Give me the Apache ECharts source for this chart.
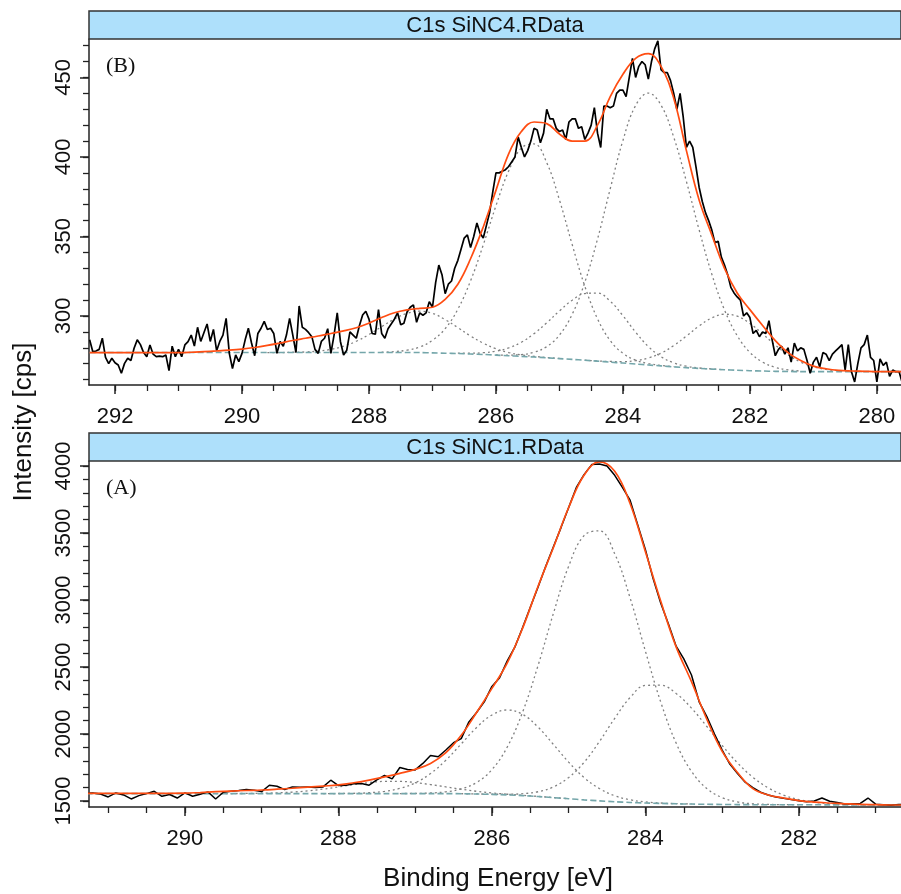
<!DOCTYPE html>
<html>
<head>
<meta charset="utf-8">
<title>C1s SiNC peak fits</title>
<script src="https://cdn.jsdelivr.net/npm/echarts@6/dist/echarts.min.js"></script>
<style>
  html, body { margin: 0; padding: 0; background: #fff; }
  #chart { width: 901px; height: 894px; }
</style>
</head>
<body>
<div id="chart"></div>
<script>
// sampling of the spectra, binding energy in eV (high -> low)
var topStart = 292.4, topStep = 0.05;
var botStart = 291.3, botStep = 0.1;
var fitStep = 0.2;

// ---- (B) SiNC4 ----
var topCounts = [
  285, 277.5, 278, 279, 286, 274, 270, 273.4, 270.6, 269.2,
  264, 270.2, 273.4, 272, 279.7, 285, 282, 277, 274.4, 281.8,
  276, 274.4, 274.8, 274.4, 275.5, 265.6, 281, 274.4, 279, 274.4,
  281.8, 283.9, 288, 281.1, 292.9, 284, 289.5, 295, 284, 291.6,
  278.2, 284, 288, 298.5, 276.5, 267, 275.5, 271.3, 276.5, 285,
  292.3, 283, 275, 289, 292.3, 296.6, 291.5, 292.3, 289, 276.5,
  283.9, 281, 288, 298.5, 288, 277, 306.3, 292.9, 291.6, 289.5,
  287, 279, 276.5, 284, 286, 292, 276.5, 288, 302, 284,
  275.5, 278.5, 290, 288, 286, 294, 300.6,
  303, 298, 289, 288.5, 304, 289, 286, 292, 295, 298,
  302, 294.5, 295.5, 302.5, 305.5, 307, 296, 302, 300.5, 302,
  309, 305.5, 321, 332, 326, 314, 320,
  322, 330, 335, 342, 349, 351, 343, 350, 358.5, 352,
  349, 357, 365, 378, 390, 390, 391, 392, 394, 397,
  400, 412.6, 406, 400, 404, 410, 418, 417, 409, 415,
  430, 424, 424, 418, 416, 417, 411, 422, 424, 424,
  418, 419, 411, 415, 420, 431, 415, 406, 432, 432,
  431, 432, 440, 442, 442, 438, 450, 462, 450, 457,
  460, 458, 449, 460, 468, 473, 455, 453, 453, 448,
  440, 430, 440, 425, 406, 410, 406, 394, 381, 372,
  365, 360, 354, 346, 347, 337, 332, 326, 318, 314.5,
  312, 310, 300, 302, 299, 289, 291, 287, 290, 289,
  297, 285, 275, 279, 281, 276, 280, 271, 283, 278,
  280, 279, 272, 264, 271, 274, 268, 277, 276, 272,
  276, 278, 280, 282, 266, 282, 265, 258.5, 270, 280,
  282, 288, 274, 272, 258.5, 273, 269, 271, 262, 266,
  265, 265, 258
];
// fit envelope and Shirley background, from 292.4 eV every 0.2 eV
var topEnvelope = [
  277, 277, 277, 277, 277, 277, 277, 277, 277.2, 277.6,
  278, 278.5, 279.2, 280.2, 281.5, 283, 284.6, 286, 287.4, 289,
  290.6, 292.6, 295.5, 299, 302, 303.8, 304.8, 305.5, 310.5, 320,
  336, 356, 379, 402, 416, 422, 421, 414.5, 410, 410,
  420, 438, 452, 462, 465, 457, 437, 404, 373, 351,
  330, 314.5, 304, 294, 284.5, 277, 272, 268.5, 266.8, 265.8,
  265.4, 265.2, 265, 265, 265
];
var topBackground = [
  277, 277, 277, 277, 277, 277, 277, 277, 277, 277,
  277, 277, 277, 277, 277, 277, 277, 277, 277, 277,
  277, 277, 277, 277, 277, 277, 277,
  276.8, 276.6, 276.4, 276.1, 275.8, 275.4, 275, 274.6, 274.2, 273.7,
  273.2, 272.7, 272.2, 271.6, 271, 270.4, 269.8, 269.2, 268.6, 268,
  267.5, 267, 266.6, 266.2, 265.9, 265.6, 265.4, 265.2, 265.1,
  265, 265, 265, 265, 265, 265, 265, 265, 265
];
// fitted components (start energy, values every 0.2 eV)
var topComp1Start = 289.6;
var topComp1 = [277, 277, 277.2, 277.4, 277.9, 279, 281, 284.1, 288.3, 293.3, 298.1, 301.7,
  303, 301.7, 297.7, 292.7, 287.4, 282.9, 279.4, 277, 275.5, 274.6, 273.9, 273.3];
var topComp2Start = 287.8;
var topComp2 = [277.2, 277.6, 278.5, 280.5, 284.7, 292, 304.3, 322.1, 344.7, 369.3, 391.2, 405.6,
  408.2, 396.4, 373, 345, 318.7, 298.2, 284.5, 276.5, 272.2, 270.1, 268.9, 268.1];
var topComp3Start = 286.6;
var topComp3 = [276.6, 276.6, 276.9, 277.9, 279.9, 283.5, 288.9, 295.7, 303.2, 309.9, 314.1,
  314.4, 309.3, 300.2, 289.8, 280.8, 274.4, 270.5, 268.4, 267.3, 266.7, 266.2];
var topComp4Start = 286.0;
var topComp4 = [275.5, 275.4, 275.7, 277.2, 280.7, 288, 301, 321.2, 348.4, 380, 410.4, 432.4,
  440.2, 432.6, 412.5, 384.6, 354.2, 326.3, 303.8, 287.6, 277.1, 271, 267.7, 266.1, 265.4];
var topComp5Start = 284.6;
var topComp5 = [272.2, 271.7, 271.4, 271.3, 271.9, 273.6, 276.6, 281.4, 287.4, 293.7, 298.8,
  301.1, 299.9, 295.3, 288.8, 281.7, 275.6, 271, 268.1, 266.4, 265.6, 265.2, 265];

// ---- (A) SiNC1 ----
var botCounts = [
  1555, 1560, 1552, 1530, 1560, 1545, 1515, 1540, 1555, 1572,
  1535, 1548, 1522, 1560, 1535, 1550, 1568, 1515, 1565, 1572,
  1578, 1585, 1580, 1570, 1617, 1610, 1585, 1605, 1602, 1604,
  1600, 1605, 1655, 1615, 1618, 1628, 1630, 1618, 1657, 1690,
  1665, 1750, 1735, 1732, 1780, 1840, 1830, 1880, 1935, 1965,
  2090, 2160, 2240, 2355, 2420,
  2545, 2650, 2795, 2945, 3095, 3250, 3395, 3540, 3690, 3840,
  3935, 4010, 4015, 4000, 3930, 3840, 3745, 3560, 3375, 3160,
  2975, 2820, 2655, 2560, 2440, 2240, 2130, 2000, 1880, 1775,
  1705, 1640, 1600, 1565, 1545, 1530, 1520, 1510, 1502, 1495,
  1500, 1522, 1498, 1488, 1478, 1480, 1482, 1522, 1476, 1472,
  1468, 1474, 1470
];
var botFitStart = 291.4;
var botEnvelope = [
  1556, 1556, 1556, 1556, 1557, 1557, 1557, 1558, 1563, 1569,
  1574, 1578, 1582, 1588, 1595, 1603, 1611, 1620, 1636, 1656,
  1680, 1706, 1736, 1780, 1860, 1990, 2160, 2340, 2530, 2790,
  3100, 3390, 3690, 3930, 4030, 3960, 3720, 3360, 2990, 2650,
  2390, 2110, 1870, 1712, 1592, 1545, 1522, 1503, 1492, 1485,
  1479, 1474, 1472, 1470, 1470
];
var botBackground = [
  1555, 1555, 1555, 1555, 1555, 1555, 1555, 1555, 1555, 1555,
  1555, 1555, 1555, 1555, 1555, 1555, 1555, 1555, 1555, 1555,
  1555, 1555, 1555, 1555, 1555,
  1554, 1552, 1549, 1545, 1540, 1533, 1525, 1517, 1508, 1501,
  1494, 1489, 1485, 1482, 1479, 1477, 1475, 1474, 1473, 1472,
  1472, 1472, 1472, 1471.5, 1471, 1470.5, 1470, 1470, 1470, 1470
];
var botComp1Start = 289.6;
var botComp1 = [1555.1, 1555.4, 1556, 1557.5, 1560.5, 1566.1, 1575.2, 1588.5, 1604.9, 1622.3,
  1637.2, 1645.9, 1645.9, 1637.2, 1622.3, 1604.9, 1587.5, 1572.2, 1560.1, 1550.5, 1542.5,
  1534, 1525.4, 1517.1];
var botComp2Start = 288.2;
var botComp2 = [1555.2, 1555.7, 1557.2, 1561.3, 1571.6, 1593.5, 1635.2, 1704.5, 1804.2, 1925.6,
  2048.4, 2141.8, 2179, 2146, 2051.7, 1922.5, 1789.5, 1675, 1592.7, 1539, 1508.8, 1492.8,
  1484.7, 1479.9, 1477.3];
var botComp3Start = 287.2;
var botComp3 = [1555.4, 1556.4, 1559.5, 1568.4, 1589.8, 1637.7, 1733.9, 1903, 2163.7, 2509,
  2898, 3252.4, 3480.4, 3516, 3344.9, 3015.9, 2617, 2237.3, 1931.8, 1720.8, 1593, 1525.4,
  1493, 1479, 1474.2, 1472.6, 1472.1];
var botComp4Start = 286.4;
var botComp4 = [1554.1, 1552.5, 1550.6, 1550.1, 1554.3, 1568.8, 1604.6, 1675, 1787.8, 1943,
  2116.7, 2271.6, 2362.5, 2364, 2302, 2193, 2056, 1914, 1783.8, 1676.6, 1597.8, 1544.1,
  1510.5, 1491.2, 1479.9, 1474.4, 1471.6, 1470.6, 1470.2, 1470];

// tick positions
var topXMajor = [280, 282, 284, 286, 288, 290, 292];
var topXMinor = [280, 280.5, 281, 281.5, 282, 282.5, 283, 283.5, 284, 284.5, 285, 285.5, 286,
  286.5, 287, 287.5, 288, 288.5, 289, 289.5, 290, 290.5, 291, 291.5, 292];
var topYMajor = [300, 350, 400, 450];
var topYMinor = [260, 270, 280, 290, 300, 310, 320, 330, 340, 350, 360, 370, 380, 390, 400,
  410, 420, 430, 440, 450, 460, 470];
var botXMajor = [282, 284, 286, 288, 290];
var botXMinor = [281, 281.5, 282, 282.5, 283, 283.5, 284, 284.5, 285, 285.5, 286, 286.5, 287,
  287.5, 288, 288.5, 289, 289.5, 290, 290.5, 291];
var botYMajor = [1500, 2000, 2500, 3000, 3500, 4000];
var botYMinor = [1500, 1600, 1700, 1800, 1900, 2000, 2100, 2200, 2300, 2400, 2500, 2600, 2700,
  2800, 2900, 3000, 3100, 3200, 3300, 3400, 3500, 3600, 3700, 3800, 3900, 4000];

function pairs(start, step, vals) {
  return vals.map(function (v, i) { return [+(start - i * step).toFixed(2), v]; });
}

var AXIS = '#222';
var FONT = '"Liberation Sans", Arial, sans-serif';
var plain = function (v) { return String(v); };

function xAxes(grid, min, max, major, minor) {
  return [{
    gridIndex: grid, type: 'value', inverse: true, min: min, max: max, position: 'bottom',
    axisLine: { show: true, onZero: false, lineStyle: { color: AXIS, width: 1.5 } },
    axisTick: { show: true, length: 9, customValues: major, lineStyle: { color: AXIS, width: 1.5 } },
    axisLabel: { show: true, customValues: major, formatter: plain, margin: 21, fontSize: 22, color: '#111', fontFamily: FONT },
    splitLine: { show: false }
  }, {
    gridIndex: grid, type: 'value', inverse: true, min: min, max: max, position: 'bottom',
    axisLine: { show: false },
    axisTick: { show: true, length: 6, customValues: minor, lineStyle: { color: AXIS, width: 1.3 } },
    axisLabel: { show: false },
    splitLine: { show: false }
  }];
}

function yAxes(grid, min, max, major, minor) {
  return [{
    gridIndex: grid, type: 'value', min: min, max: max, position: 'left',
    axisLine: { show: true, onZero: false, lineStyle: { color: AXIS, width: 1.5 } },
    axisTick: { show: true, length: 9, customValues: major, lineStyle: { color: AXIS, width: 1.5 } },
    axisLabel: { show: true, customValues: major, formatter: plain, rotate: 90, margin: 14, fontSize: 22, color: '#111', fontFamily: FONT },
    splitLine: { show: false }
  }, {
    gridIndex: grid, type: 'value', min: min, max: max, position: 'left',
    axisLine: { show: false },
    axisTick: { show: true, length: 6, customValues: minor, lineStyle: { color: AXIS, width: 1.3 } },
    axisLabel: { show: false },
    splitLine: { show: false }
  }];
}

function line(axis, data, color, width, type, smooth, z) {
  return {
    type: 'line', xAxisIndex: axis, yAxisIndex: axis, data: data,
    showSymbol: false, symbol: 'none', smooth: smooth, z: z, silent: true,
    lineStyle: { color: color, width: width, type: type }
  };
}

var DOT = [2, 3], DASH = [6, 3];
var COMP = '#808080', BG = '#74a6aa', DATA = '#000', FIT = '#ff4d12';

var series = [
  line(0, pairs(topComp1Start, fitStep, topComp1), COMP, 1.3, DOT, 0.4, 2),
  line(0, pairs(topComp2Start, fitStep, topComp2), COMP, 1.3, DOT, 0.4, 2),
  line(0, pairs(topComp3Start, fitStep, topComp3), COMP, 1.3, DOT, 0.4, 2),
  line(0, pairs(topComp4Start, fitStep, topComp4), COMP, 1.3, DOT, 0.4, 2),
  line(0, pairs(topComp5Start, fitStep, topComp5), COMP, 1.3, DOT, 0.4, 2),
  line(0, pairs(topStart, fitStep, topBackground), BG, 1.6, DASH, 0.3, 3),
  line(0, pairs(topStart, topStep, topCounts), DATA, 1.7, 'solid', false, 4),
  line(0, pairs(topStart, fitStep, topEnvelope), FIT, 1.7, 'solid', 0.4, 5),

  line(2, pairs(botComp1Start, fitStep, botComp1), COMP, 1.3, DOT, 0.4, 2),
  line(2, pairs(botComp2Start, fitStep, botComp2), COMP, 1.3, DOT, 0.4, 2),
  line(2, pairs(botComp3Start, fitStep, botComp3), COMP, 1.3, DOT, 0.4, 2),
  line(2, pairs(botComp4Start, fitStep, botComp4), COMP, 1.3, DOT, 0.4, 2),
  line(2, pairs(botFitStart, fitStep, botBackground), BG, 1.6, DASH, 0.3, 3),
  line(2, pairs(botStart, botStep, botCounts), DATA, 1.5, 'solid', false, 4),
  line(2, pairs(botFitStart, fitStep, botEnvelope), FIT, 1.7, 'solid', 0.4, 5)
];

function strip(y, title) {
  return [{
    type: 'rect', shape: { x: 89, y: y, width: 812, height: 28 }, z: 10,
    style: { fill: '#aee0fb', stroke: '#333', lineWidth: 1.5 }
  }, {
    type: 'text', x: 495, y: y + 15, z: 11,
    style: { text: title, fill: '#111', font: '22px ' + FONT, align: 'center', verticalAlign: 'middle' }
  }];
}

var chart = echarts.init(document.getElementById('chart'), null, { renderer: 'canvas' });
chart.setOption({
  animation: false,
  backgroundColor: '#fff',
  grid: [
    { left: 89, top: 39, width: 812, height: 346 },
    { left: 89, top: 461, width: 812, height: 346 }
  ],
  xAxis: xAxes(0, 279.62, 292.41, topXMajor, topXMinor)
    .concat(xAxes(1, 280.67, 291.25, botXMajor, botXMinor)),
  yAxis: yAxes(0, 256.6, 474.2, topYMajor, topYMinor)
    .concat(yAxes(1, 1455, 4037, botYMajor, botYMinor)),
  series: series,
  graphic: strip(11, 'C1s SiNC4.RData').concat(strip(433, 'C1s SiNC1.RData')).concat([
    { type: 'text', x: 106, y: 66, z: 11,
      style: { text: '(B)', fill: '#111', font: '22px "Liberation Serif", "Times New Roman", serif', align: 'left', verticalAlign: 'middle' } },
    { type: 'text', x: 106, y: 488, z: 11,
      style: { text: '(A)', fill: '#111', font: '22px "Liberation Serif", "Times New Roman", serif', align: 'left', verticalAlign: 'middle' } },
    { type: 'text', x: 24, y: 422, rotation: Math.PI / 2, z: 11,
      style: { text: 'Intensity [cps]', fill: '#111', font: '26px ' + FONT, align: 'center', verticalAlign: 'middle' } },
    { type: 'text', x: 498, y: 879, z: 11,
      style: { text: 'Binding Energy [eV]', fill: '#111', font: '26px ' + FONT, align: 'center', verticalAlign: 'middle' } }
  ])
});
</script>
</body>
</html>
